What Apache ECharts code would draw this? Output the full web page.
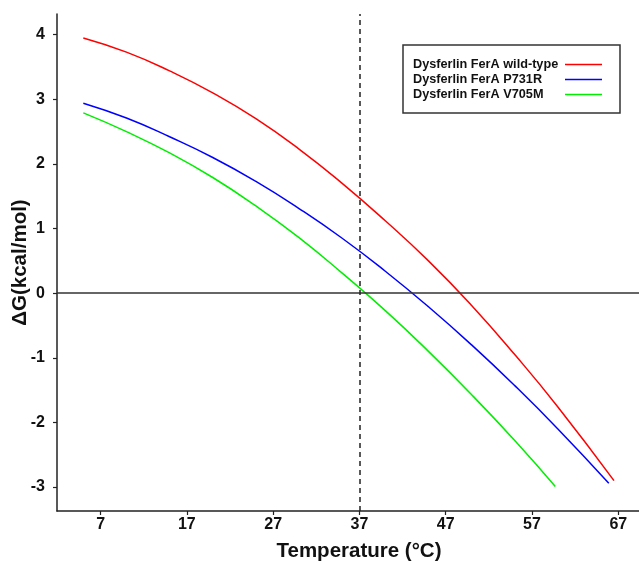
<!DOCTYPE html>
<html>
<head>
<meta charset="utf-8">
<script src="https://cdn.jsdelivr.net/npm/echarts@6/dist/echarts.min.js"></script>
<style>
  html, body { margin: 0; padding: 0; background: #fff; }
  #chart { width: 639px; height: 564px; }
</style>
</head>
<body>
<div id="chart"></div>
<script>
// Stability curves: temperature (°C) vs ΔG (kcal/mol)
const seriesNames = ['Dysferlin FerA wild-type', 'Dysferlin FerA P731R', 'Dysferlin FerA V705M'];
const seriesColors = ['#ff0000', '#0000ff', '#00ee00'];

const tempWT = [5, 10, 15, 20, 25, 30, 35, 40, 45, 50, 55, 60, 66.5];
const dgWT   = [3.95, 3.73, 3.44, 3.10, 2.70, 2.23, 1.70, 1.12, 0.50, -0.19, -0.95, -1.76, -2.90];

const tempP731R = [5, 10, 15, 20, 25, 30, 35, 40, 45, 50, 55, 60, 65.9];
const dgP731R   = [2.94, 2.71, 2.42, 2.10, 1.73, 1.31, 0.85, 0.34, -0.21, -0.80, -1.43, -2.10, -2.94];

const tempV705M = [5, 10, 15, 20, 25, 30, 35, 40, 45, 50, 55, 59.7];
const dgV705M   = [2.79, 2.50, 2.17, 1.79, 1.35, 0.86, 0.31, -0.27, -0.90, -1.57, -2.28, -2.99];

const xTicks = [7, 17, 27, 37, 47, 57, 67];
const yTicks = [-3, -2, -1, 0, 1, 2, 3, 4];
const referenceTemp = 37;

const pairs = (xs, ys) => xs.map((x, i) => [x, ys[i]]);
const seriesData = [pairs(tempWT, dgWT), pairs(tempP731R, dgP731R), pairs(tempV705M, dgV705M)];

const FONT = 'Liberation Sans, Arial, sans-serif';
const axisFont = { fontFamily: FONT, fontWeight: 'bold', color: '#111' };

const chart = echarts.init(document.getElementById('chart'), null, { renderer: 'canvas' });

const series = seriesNames.map((name, i) => ({
  name: name,
  type: 'line',
  data: seriesData[i],
  smooth: true,
  symbol: 'none',
  lineStyle: { color: seriesColors[i], width: 1.5 },
  itemStyle: { color: seriesColors[i] },
  z: 3
}));

// reference lines: ΔG = 0 and body temperature
series.push({
  name: 'refs',
  type: 'line',
  data: [],
  silent: true,
  markLine: {
    silent: true,
    symbol: 'none',
    label: { show: false },
    animation: false,
    data: [
      { yAxis: 0, lineStyle: { color: '#333', width: 1.6, type: 'solid' } },
      { xAxis: referenceTemp, lineStyle: { color: '#222', width: 1.5, type: [5, 4] } }
    ]
  },
  z: 2
});

chart.setOption({
  animation: false,
  backgroundColor: '#fff',
  grid: { left: 57, right: 0, top: 14, bottom: 53, containLabel: false, outerBoundsMode: 'none' },
  legend: {
    data: seriesNames,
    orient: 'vertical',
    left: 403,
    top: 45,
    align: 'right',
    icon: 'rect',
    padding: [13, 18, 12, 10],
    itemGap: 2,
    itemWidth: 37,
    itemHeight: 1.6,
    borderColor: '#333',
    borderWidth: 1.5,
    borderRadius: 0,
    formatter: name => '{t|' + name + '}',
    textStyle: {
      fontFamily: FONT,
      fontWeight: 'bold',
      fontSize: 12.7,
      color: '#111',
      rich: {
        t: { width: 147, align: 'left', fontFamily: FONT, fontWeight: 'bold', fontSize: 12.7, color: '#111', height: 13 }
      }
    }
  },
  xAxis: {
    type: 'value',
    min: 1.95,
    max: 69.4,
    name: 'Temperature (°C)',
    nameLocation: 'middle',
    nameGap: 30,
    nameMoveOverlap: false,
    nameTextStyle: Object.assign({ fontSize: 20.5, padding: [0, 0, 0, 22] }, axisFont),
    splitLine: { show: false },
    axisLine: { onZero: false, lineStyle: { color: '#222', width: 1.5 } },
    axisTick: { show: true, customValues: xTicks, length: 4, lineStyle: { color: '#222', width: 1.2 } },
    axisLabel: Object.assign({ customValues: xTicks, fontSize: 16, margin: 6 }, axisFont)
  },
  yAxis: {
    type: 'value',
    min: -3.37,
    max: 4.32,
    name: 'ΔG(kcal/mol)',
    nameLocation: 'middle',
    nameGap: 26,
    nameMoveOverlap: false,
    nameRotate: 90,
    nameTextStyle: Object.assign({ fontSize: 20.5 }, axisFont),
    splitLine: { show: false },
    axisLine: { onZero: false, lineStyle: { color: '#222', width: 1.5 } },
    axisTick: { show: true, customValues: yTicks, length: 4, lineStyle: { color: '#222', width: 1.2 } },
    axisLabel: Object.assign({ customValues: yTicks, fontSize: 16, margin: 12 }, axisFont)
  },
  series: series
});
</script>
</body>
</html>
